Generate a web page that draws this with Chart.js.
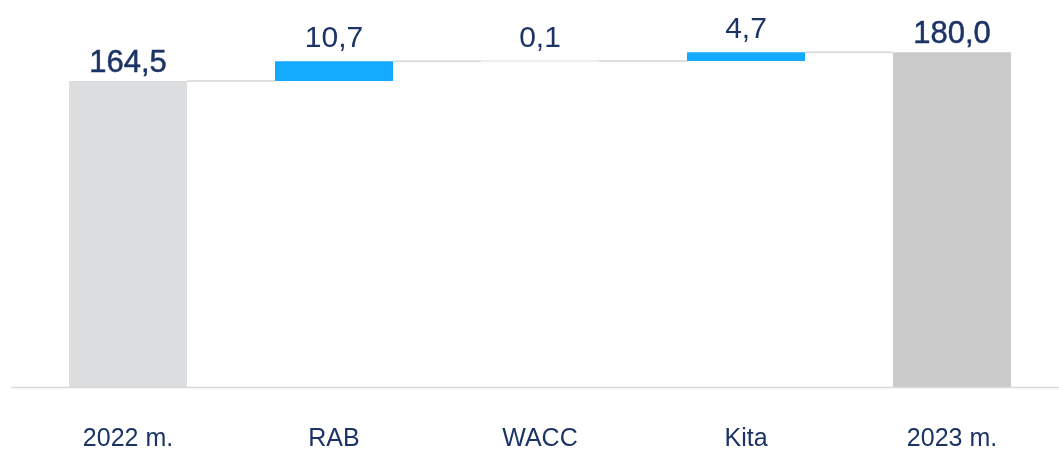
<!DOCTYPE html>
<html>
<head>
<meta charset="utf-8">
<script src="https://cdn.jsdelivr.net/npm/chart.js@4/dist/chart.umd.min.js"></script>
<style>
  html, body { margin: 0; padding: 0; background: #fff; }
  #wrap { width: 1059px; height: 451px; }
</style>
</head>
<body>
<div id="wrap"><canvas id="chart"></canvas></div>
<script>
// Duomenys (krioklio diagrama)
const categories = ['2022 m.', 'RAB', 'WACC', 'Kita', '2023 m.'];
const startTotal = 164.5;
const deltas = [10.7, 0.1, 4.7];
const endTotal = 180.0;
const valueLabels = ['164,5', '10,7', '0,1', '4,7', '180,0'];
const barColors = ['#dcdddf', '#14aaff', '#e3e8ec', '#14aaff', '#cbcbcb'];

// floating bars [nuo, iki]
const ranges = [[0, startTotal]];
let level = startTotal;
deltas.forEach(d => {
    ranges.push([level, level + d]);
    level += d;
});
ranges.push([0, endTotal]);

const navy = '#1c3366';
const font = '"Liberation Sans", Arial, sans-serif';

// jungiamosios linijos + ašis + reikšmės
const waterfallExtras = {
    id: 'waterfallExtras',
    afterDatasetsDraw(chart) {
        const { ctx, chartArea } = chart;
        const meta = chart.getDatasetMeta(0);
        const y = chart.scales.y;

        ctx.save();
        // ašies linija
        ctx.strokeStyle = '#dadada';
        ctx.lineWidth = 1.5;
        ctx.beginPath();
        ctx.moveTo(chartArea.left - 14, y.getPixelForValue(0) + 0.5);
        ctx.lineTo(chart.width, y.getPixelForValue(0) + 0.5);
        ctx.stroke();

        // jungtys tarp stulpelių
        ctx.strokeStyle = '#dedede';
        ctx.lineWidth = 2;
        for (let i = 0; i < ranges.length - 1; i++) {
            const a = meta.data[i], b = meta.data[i + 1];
            const top = Math.max(ranges[i][0], ranges[i][1]);
            const py = y.getPixelForValue(top);
            ctx.beginPath();
            ctx.moveTo(a.x + a.width / 2, py);
            ctx.lineTo(b.x - b.width / 2, py);
            ctx.stroke();
        }

        // labai mažas pokytis (WACC) - plona linija
        ctx.strokeStyle = '#e6eaee';
        ctx.lineWidth = 1.5;
        meta.data.forEach((bar, i) => {
            if (Math.abs(ranges[i][1] - ranges[i][0]) < 1) {
                const py = y.getPixelForValue(ranges[i][1]);
                ctx.beginPath();
                ctx.moveTo(bar.x - bar.width / 2, py);
                ctx.lineTo(bar.x + bar.width / 2, py);
                ctx.stroke();
            }
        });

        // reikšmių etiketės
        ctx.fillStyle = navy;
        ctx.strokeStyle = navy;
        ctx.textAlign = 'center';
        ctx.textBaseline = 'alphabetic';
        meta.data.forEach((bar, i) => {
            const isTotal = i === 0 || i === ranges.length - 1;
            ctx.font = (isTotal ? '31px ' : '30px ') + font;
            const top = Math.max(ranges[i][0], ranges[i][1]);
            const ty = y.getPixelForValue(top) - (isTotal ? 9 : 14);
            ctx.fillText(valueLabels[i], bar.x, ty);
            if (isTotal) {
                ctx.lineWidth = 0.5;
                ctx.strokeText(valueLabels[i], bar.x, ty);
            }
        });
        ctx.restore();
    }
};

new Chart(document.getElementById('chart'), {
    type: 'bar',
    data: {
        labels: categories,
        datasets: [{
            data: ranges,
            backgroundColor: barColors,
            borderWidth: 0,
            categoryPercentage: 1,
            barPercentage: 0.573
        }]
    },
    options: {
        responsive: true,
        maintainAspectRatio: false,
        animation: false,
        layout: { padding: { left: 25, right: 4, top: 15, bottom: 0 } },
        plugins: {
            legend: { display: false },
            tooltip: { enabled: false }
        },
        scales: {
            y: {
                display: false,
                min: 0,
                max: 200
            },
            x: {
                grid: { display: false, drawTicks: false },
                border: { display: false },
                afterFit(scale) { scale.height = 64; },
                ticks: {
                    color: navy,
                    padding: 37,
                    font: { family: font, size: 25 }
                }
            }
        }
    },
    plugins: [waterfallExtras]
});
</script>
</body>
</html>
